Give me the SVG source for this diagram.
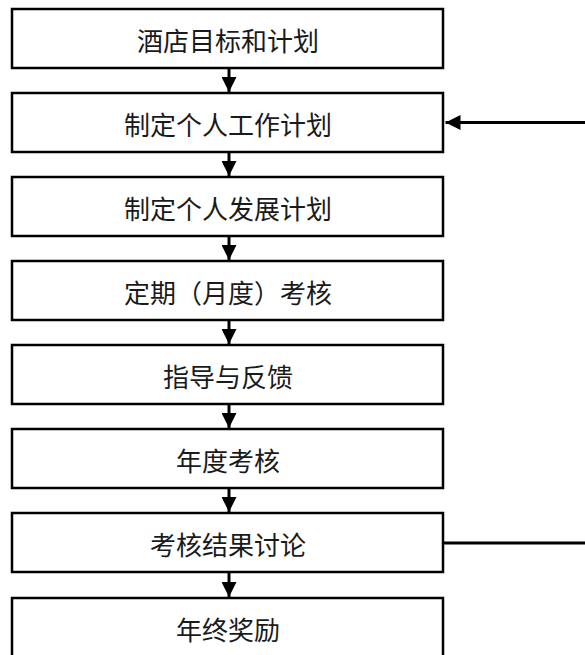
<svg xmlns="http://www.w3.org/2000/svg" width="585" height="655" viewBox="0 0 585 655">
  <style>
    .box { fill: #ffffff; stroke: #000000; stroke-width: 2.5; }
    .lbl { font-family: "Noto Sans CJK SC", "Noto Sans CJK JP", sans-serif; font-size: 26px; fill: #1a1a1a; text-anchor: middle; }
    .conn { stroke: #000000; stroke-width: 3; fill: none; }
  </style>
  <defs>
    <marker id="ah" markerUnits="userSpaceOnUse" markerWidth="15" markerHeight="15" refX="15" refY="7.5" orient="auto">
      <path d="M0,0 L15,7.5 L0,15 z" fill="#000000"/>
    </marker>
  </defs>
  <rect width="585" height="655" fill="#ffffff"/>
  <g id="n1"><rect class="box" x="12" y="9" width="431" height="59"/><text class="lbl" x="228" y="51">酒店目标和计划</text></g>
  <g id="n2"><rect class="box" x="12" y="93" width="431" height="59"/><text class="lbl" x="228" y="135">制定个人工作计划</text></g>
  <g id="n3"><rect class="box" x="12" y="177" width="431" height="59"/><text class="lbl" x="228" y="219">制定个人发展计划</text></g>
  <g id="n4"><rect class="box" x="12" y="261" width="431" height="59"/><text class="lbl" x="228" y="303">定期（月度）考核</text></g>
  <g id="n5"><rect class="box" x="12" y="345" width="431" height="59"/><text class="lbl" x="228" y="387">指导与反馈</text></g>
  <g id="n6"><rect class="box" x="12" y="429" width="431" height="59"/><text class="lbl" x="228" y="471">年度考核</text></g>
  <g id="n7"><rect class="box" x="12" y="513" width="431" height="59"/><text class="lbl" x="228" y="555">考核结果讨论</text></g>
  <g id="n8"><rect class="box" x="12" y="598" width="431" height="62"/><text class="lbl" x="228" y="640">年终奖励</text></g>
  <g id="connectors">
    <line class="conn" x1="229" y1="68" x2="229" y2="92" marker-end="url(#ah)"/>
    <line class="conn" x1="229" y1="152" x2="229" y2="176" marker-end="url(#ah)"/>
    <line class="conn" x1="229" y1="236" x2="229" y2="260" marker-end="url(#ah)"/>
    <line class="conn" x1="229" y1="320" x2="229" y2="344" marker-end="url(#ah)"/>
    <line class="conn" x1="229" y1="404" x2="229" y2="428" marker-end="url(#ah)"/>
    <line class="conn" x1="229" y1="488" x2="229" y2="512" marker-end="url(#ah)"/>
    <line class="conn" x1="229" y1="572" x2="229" y2="597" marker-end="url(#ah)"/>
    <line class="conn" x1="585" y1="122.5" x2="445.5" y2="122.5" marker-end="url(#ah)"/>
    <line class="conn" x1="444" y1="543" x2="585" y2="543"/>
  </g>
</svg>
